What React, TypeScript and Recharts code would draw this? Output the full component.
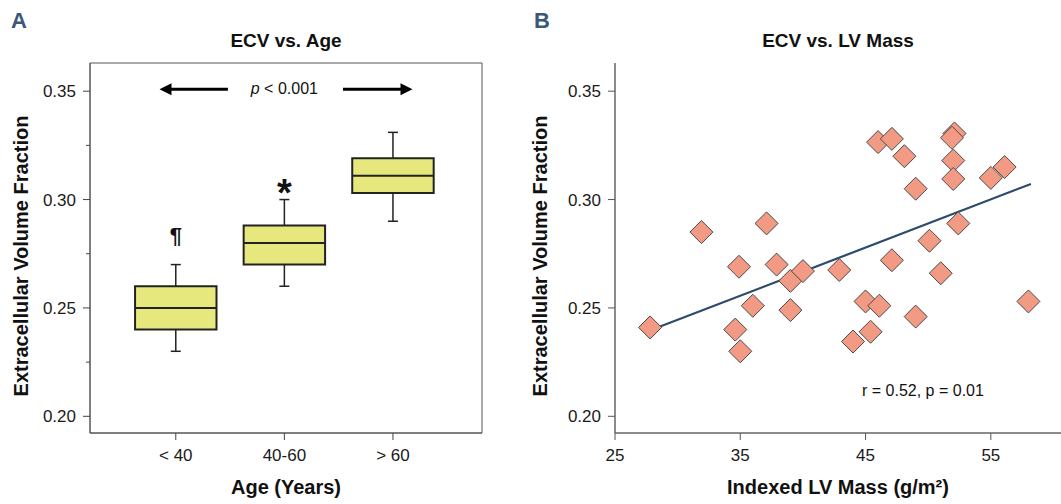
import React from 'react';
import {
  ComposedChart,
  ScatterChart,
  Scatter,
  XAxis,
  YAxis,
  ReferenceArea,
  ReferenceLine,
  ReferenceDot,
  Label,
} from 'recharts';

const FONT = '"Liberation Sans", Arial, Helvetica, sans-serif';

// Panel A - ECV by age group (box summaries)
const ageGroups = ['< 40', '40-60', '> 60'];
const ecvMin = [0.23, 0.26, 0.29];
const ecvQ1 = [0.24, 0.27, 0.303];
const ecvMedian = [0.25, 0.28, 0.311];
const ecvQ3 = [0.26, 0.288, 0.319];
const ecvMax = [0.27, 0.3, 0.331];
const groupMarks = ['¶', '*', ''];
const groupMarkY = [0.2834, 0.307, 0];

// Panel B - ECV vs indexed LV mass
const lvMass = [
  27.8, 31.9, 34.9, 34.6, 35.0, 36.0, 37.1, 37.9, 39.0, 40.0, 39.0, 42.9, 44.0, 45.0, 45.4, 46.1,
  46.0, 47.1, 48.1, 47.1, 49.0, 49.0, 50.1, 51.0, 52.1, 51.9, 52.0, 52.0, 52.4, 55.0, 56.1, 58.0,
];
const ecvValues = [
  0.241, 0.285, 0.269, 0.24, 0.23, 0.251, 0.289, 0.27, 0.2625, 0.267, 0.249, 0.2675, 0.2345, 0.253, 0.239, 0.251,
  0.3265, 0.328, 0.32, 0.272, 0.305, 0.246, 0.281, 0.266, 0.3305, 0.3285, 0.318, 0.3095, 0.289, 0.31, 0.315, 0.253,
];
const fitX = [28.6, 58.2];
const fitY = [0.2414, 0.3072];

const yTicks = [0.2, 0.25, 0.3, 0.35];
const yMinorTicks = [0.225, 0.275, 0.325];
const massTicks = [25, 35, 45, 55];

const yDomain: [number, number] = [0.1923, 0.363];
const ageDomain: [number, number] = [-0.79, 2.82];
const massDomain: [number, number] = [25, 60.6];

const BOX_HALF = 0.375;
const CAP_HALF = 0.046;

const scatterData = lvMass.map((x, i) => ({ x, y: ecvValues[i] }));
const fitData = fitX.map((x, i) => ({ x, y: fitY[i] }));

const tickStyle = { fill: '#1a1a1a', fontSize: 17, fontFamily: FONT };
const axisTitleStyle = { fill: '#111', fontSize: 20, fontWeight: 700, fontFamily: FONT };

const Diamond = (props: any) => {
  const { cx, cy } = props;
  const s = 11.5;
  return (
    <polygon
      points={`${cx},${cy - s} ${cx + s},${cy} ${cx},${cy + s} ${cx - s},${cy}`}
      fill="#f39a85"
      stroke="#4a4a4a"
      strokeWidth={1}
    />
  );
};

const Arrow = (props: any) => {
  const { x1, y1, x2, y2 } = props;
  const dir = x2 > x1 ? 1 : -1;
  const len = 12;
  return (
    <g>
      <line x1={x1} y1={y1} x2={x2 - dir * len * 0.6} y2={y2} stroke="#000" strokeWidth={3} />
      <polygon points={`${x2},${y2} ${x2 - dir * len},${y2 - 6} ${x2 - dir * len},${y2 + 6}`} fill="#000" />
    </g>
  );
};

const MinorTick = (props: any) => (
  <line x1={props.x1 - 4} y1={props.y1} x2={props.x1} y2={props.y1} stroke="#444" strokeWidth={1} />
);

const yTitle = (x: number) => (props: any) => {
  const vb = props.viewBox;
  const cy = vb.y + vb.height / 2 + 8;
  return (
    <text
      x={x}
      y={cy}
      transform={`rotate(-90, ${x}, ${cy})`}
      textAnchor="middle"
      dominantBaseline="central"
      style={axisTitleStyle as any}
    >
      Extracellular Volume Fraction
    </text>
  );
};

const PValue = (props: any) => {
  const { x, y, width, height } = props.viewBox;
  return (
    <text x={x + width / 2} y={y + height / 2} dy={5} textAnchor="middle" fontSize={16} fontFamily={FONT} fill="#111">
      <tspan fontStyle="italic">p</tspan> &lt; 0.001
    </text>
  );
};

const ECVvsAge = () => (
  <ComposedChart width={530} height={504} margin={{ top: 63, right: 48, bottom: 0, left: 10 }}>
    <XAxis
      dataKey="x"
      type="number"
      domain={ageDomain}
      ticks={[0, 1, 2]}
      tickFormatter={(v: number) => ageGroups[v]}
      allowDataOverflow
      height={71}
      tickSize={7}
      tickMargin={9}
      tick={tickStyle}
      axisLine={{ stroke: '#555' }}
      tickLine={{ stroke: '#444' }}
    >
      <Label value="Age (Years)" position="insideBottom" offset={10} style={axisTitleStyle as any} />
    </XAxis>
    <YAxis
      type="number"
      domain={yDomain}
      ticks={yTicks}
      tickFormatter={(v: number) => v.toFixed(2)}
      allowDataOverflow
      width={80}
      tickSize={7}
      tickMargin={7}
      tick={tickStyle}
      axisLine={{ stroke: '#555' }}
      tickLine={{ stroke: '#444' }}
    >
      <Label content={yTitle(21)} />
    </YAxis>
    <ReferenceArea
      x1={ageDomain[0]}
      x2={ageDomain[1]}
      y1={yDomain[0]}
      y2={yDomain[1]}
      fill="none"
      stroke="#555"
      strokeWidth={1}
      ifOverflow="visible"
    />
    {yMinorTicks.map((v) => (
      <ReferenceLine key={`m${v}`} y={v} shape={MinorTick} ifOverflow="visible" />
    ))}
    {ageGroups.map((g, i) => (
      <ReferenceLine
        key={`wh${g}`}
        segment={[{ x: i, y: ecvQ3[i] }, { x: i, y: ecvMax[i] }]}
        stroke="#222"
        strokeWidth={1.5}
      />
    ))}
    {ageGroups.map((g, i) => (
      <ReferenceLine
        key={`wl${g}`}
        segment={[{ x: i, y: ecvQ1[i] }, { x: i, y: ecvMin[i] }]}
        stroke="#222"
        strokeWidth={1.5}
      />
    ))}
    {ageGroups.map((g, i) => (
      <ReferenceLine
        key={`ch${g}`}
        segment={[{ x: i - CAP_HALF, y: ecvMax[i] }, { x: i + CAP_HALF, y: ecvMax[i] }]}
        stroke="#222"
        strokeWidth={1.5}
      />
    ))}
    {ageGroups.map((g, i) => (
      <ReferenceLine
        key={`cl${g}`}
        segment={[{ x: i - CAP_HALF, y: ecvMin[i] }, { x: i + CAP_HALF, y: ecvMin[i] }]}
        stroke="#222"
        strokeWidth={1.5}
      />
    ))}
    {ageGroups.map((g, i) => (
      <ReferenceArea
        key={`b${g}`}
        x1={i - BOX_HALF}
        x2={i + BOX_HALF}
        y1={ecvQ1[i]}
        y2={ecvQ3[i]}
        fill="#e6e87e"
        fillOpacity={1}
        stroke="#222"
        strokeWidth={2}
      />
    ))}
    {ageGroups.map((g, i) => (
      <ReferenceLine
        key={`md${g}`}
        segment={[{ x: i - BOX_HALF, y: ecvMedian[i] }, { x: i + BOX_HALF, y: ecvMedian[i] }]}
        stroke="#222"
        strokeWidth={2}
      />
    ))}
    {ageGroups.map((g, i) =>
      groupMarks[i] ? (
        <ReferenceDot
          key={`s${g}`}
          x={i}
          y={groupMarkY[i]}
          r={0}
          fill="none"
          stroke="none"
          label={{
            value: groupMarks[i],
            position: 'center',
            fill: '#111',
            fontSize: groupMarks[i] === '*' ? 38 : 22,
            fontWeight: 700,
            fontFamily: FONT,
            dy: groupMarks[i] === '*' ? 8 : 0,
          }}
        />
      ) : null
    )}
    <ReferenceLine segment={[{ x: 0.48, y: 0.3509 }, { x: -0.15, y: 0.3509 }]} shape={Arrow} />
    <ReferenceLine segment={[{ x: 1.54, y: 0.3509 }, { x: 2.18, y: 0.3509 }]} shape={Arrow} />
    <ReferenceDot x={1} y={0.3509} r={0} fill="none" stroke="none" label={<Label content={PValue} />} />
  </ComposedChart>
);

const ECVvsMass = () => (
  <ScatterChart width={531} height={504} margin={{ top: 63, right: 0, bottom: 0, left: 5 }}>
    <XAxis
      dataKey="x"
      type="number"
      domain={massDomain}
      ticks={massTicks}
      allowDataOverflow
      height={71}
      tickSize={7}
      tickMargin={9}
      tick={tickStyle}
      axisLine={{ stroke: '#666', strokeWidth: 1.5 }}
      tickLine={{ stroke: '#555' }}
    >
      <Label value="Indexed LV Mass (g/m²)" position="insideBottom" offset={10} style={axisTitleStyle as any} />
    </XAxis>
    <YAxis
      dataKey="y"
      type="number"
      domain={yDomain}
      ticks={yTicks}
      tickFormatter={(v: number) => v.toFixed(2)}
      allowDataOverflow
      width={80}
      tickSize={7}
      tickMargin={7}
      tick={tickStyle}
      axisLine={{ stroke: '#666', strokeWidth: 1.5 }}
      tickLine={{ stroke: '#555' }}
    >
      <Label content={yTitle(10)} />
    </YAxis>
    <Scatter
      data={fitData}
      line={{ stroke: '#2d4b6b', strokeWidth: 2.2 }}
      shape={() => <g />}
      isAnimationActive={false}
    />
    <Scatter data={scatterData} shape={Diamond} isAnimationActive={false} />
    <ReferenceDot
      x={49.58}
      y={0.2118}
      r={0}
      fill="none"
      stroke="none"
      label={{ value: 'r = 0.52, p = 0.01', position: 'center', fill: '#111', fontSize: 16, fontFamily: FONT }}
    />
  </ScatterChart>
);

export default function App() {
  return (
    <div style={{ position: 'fixed', left: 0, top: 0, width: 1061, height: 504, background: '#fff', fontFamily: FONT }}>
      <div style={{ position: 'absolute', left: 0, top: 0 }}>
        <ECVvsAge />
      </div>
      <div style={{ position: 'absolute', left: 530, top: 0 }}>
        <ECVvsMass />
      </div>
      <svg width={1061} height={504} style={{ position: 'absolute', left: 0, top: 0, pointerEvents: 'none' }}>
        <text x={11} y={28} fontSize={22} fontWeight={700} fill="#3b5878" fontFamily={FONT}>A</text>
        <text x={534} y={28} fontSize={22} fontWeight={700} fill="#3b5878" fontFamily={FONT}>B</text>
        <text x={286} y={47} textAnchor="middle" fontSize={19} fontWeight={700} fill="#111" fontFamily={FONT}>
          ECV vs. Age
        </text>
        <text x={838} y={47} textAnchor="middle" fontSize={19} fontWeight={700} fill="#111" fontFamily={FONT}>
          ECV vs. LV Mass
        </text>
      </svg>
    </div>
  );
}
